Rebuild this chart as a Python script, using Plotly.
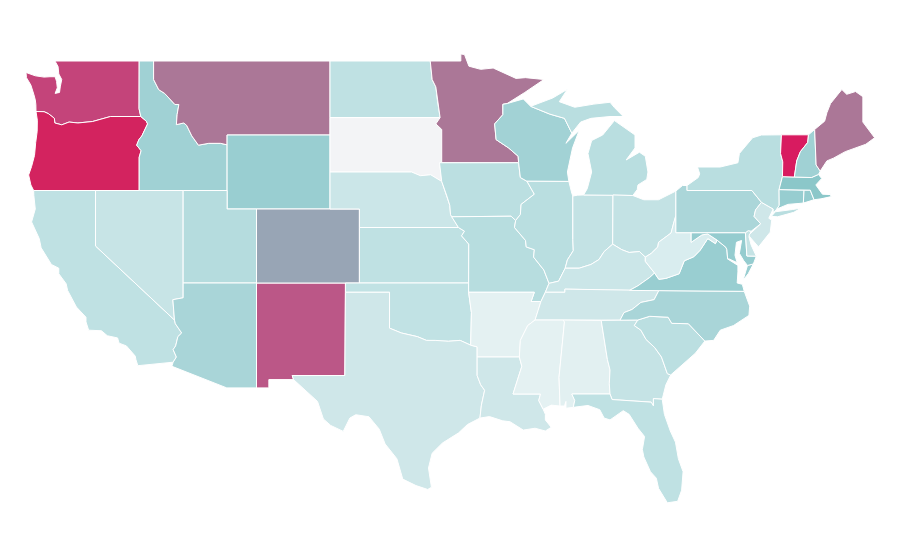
import plotly.graph_objects as go
from plotly.colors import sample_colorscale

# State values (0-100 on the colour scale)
states = ["WA","OR","CA","NV","ID","MT","WY","UT","AZ","NM","CO","ND","SD","NE","KS","OK","TX","MN","IA","MO","AR","LA","WI","IL","IN","MI","OH","KY","TN","MS","AL","GA","FL","SC","NC","VA","WV","MD","DE","PA","NJ","NY","CT","RI","MA","VT","NH","ME"]
values = [86,97,25,21,40,72,43,30,36,80,60,25,0,19,25,24,17,72,27,29,7,17,39,28,23,28,23,19,17,7,8,22,25,27,36,43,12,45,22,35,17,28,44,45,50,100,40,72]
colorscale = [[0,"#f3f4f6"],[0.07,"#e4f1f2"],[0.12,"#d9edef"],[0.17,"#cfe7e9"],[0.25,"#bfe1e3"],[0.36,"#a9d5d8"],[0.43,"#99ced1"],[0.5,"#8bc7c9"],[0.6,"#98a5b5"],[0.72,"#ab7797"],[0.8,"#bb5787"],[0.86,"#c4447a"],[0.97,"#d3235f"],[1,"#d81b60"]]

# Approximate state outlines as (lon, lat); no boundary file is reachable offline
outlines = {
"WA":[[(-122.76,49),(-117.03,49),(-117.04,46.42),(-116.92,46),(-118.98,46),(-119.3,45.93),(-120.2,45.73),(-121.2,45.65),(-121.8,45.7),(-122.3,45.55),(-122.77,45.65),(-122.8,45.9),(-123.2,46.15),(-123.5,46.26),(-124.05,46.27),(-124.06,46.65),(-124.1,46.9),(-124.2,47.2),(-124.4,47.7),(-124.7,48.1),(-124.73,48.38),(-124.1,48.2),(-123.5,48.13),(-123.1,48.15),(-122.75,48.15),(-122.65,47.9),(-122.6,47.55),(-122.75,47.25),(-122.45,47.3),(-122.4,47.6),(-122.3,48),(-122.5,48.3),(-122.55,48.7)]],
"OR":[[(-124.05,46.27),(-123.5,46.26),(-123.2,46.15),(-122.8,45.9),(-122.77,45.65),(-122.3,45.55),(-121.8,45.7),(-121.2,45.65),(-120.2,45.73),(-119.3,45.93),(-118.98,46),(-116.92,46),(-116.55,45.75),(-116.46,45.6),(-116.85,44.95),(-117.05,44.75),(-117.2,44.45),(-116.9,44.15),(-117.03,43.8),(-117.03,42),(-124.21,42),(-124.4,42.3),(-124.55,42.84),(-124.35,43.3),(-124.15,43.9),(-124.07,44.6),(-123.97,45.2),(-123.96,45.8)]],
"CA":[[(-124.21,42),(-120,42),(-120,39),(-114.63,35),(-114.57,34.8),(-114.14,34.3),(-114.4,34.1),(-114.55,33.6),(-114.72,33.4),(-114.5,33),(-114.72,32.72),(-117.12,32.53),(-117.25,32.85),(-117.3,33.05),(-117.9,33.6),(-118.4,33.75),(-118.5,34.03),(-119.2,34.15),(-119.6,34.42),(-120.47,34.45),(-120.65,34.9),(-120.65,35.15),(-121.3,35.7),(-121.9,36.6),(-122,36.96),(-122.5,37.5),(-122.5,37.8),(-123,38),(-123.7,38.9),(-123.83,39.4),(-124.35,40.3),(-124.1,41),(-124.2,41.75)]],
"NV":[[(-120,42),(-114.04,42),(-114.04,36.2),(-114.74,36.1),(-114.63,35),(-120,39)]],
"ID":[[(-117.03,49),(-116.05,49),(-116.05,48),(-115.7,47.45),(-115.3,47.25),(-114.95,46.95),(-114.6,46.65),(-114.33,46.65),(-114.45,46.1),(-114.5,45.56),(-114,45.65),(-113.8,45.52),(-113.45,44.95),(-113,44.45),(-112.3,44.55),(-111.5,44.55),(-111.05,44.47),(-111.05,42),(-117.03,42),(-117.03,43.8),(-116.9,44.15),(-117.2,44.45),(-117.05,44.75),(-116.85,44.95),(-116.46,45.6),(-116.55,45.75),(-116.92,46),(-117.04,46.42)]],
"MT":[[(-116.05,49),(-104.05,49),(-104.05,45),(-111.05,45),(-111.05,44.47),(-111.5,44.55),(-112.3,44.55),(-113,44.45),(-113.45,44.95),(-113.8,45.52),(-114,45.65),(-114.5,45.56),(-114.45,46.1),(-114.33,46.65),(-114.6,46.65),(-114.95,46.95),(-115.3,47.25),(-115.7,47.45),(-116.05,48)]],
"WY":[[(-111.05,45),(-104.05,45),(-104.05,41),(-111.05,41)]],
"UT":[[(-114.04,42),(-111.05,42),(-111.05,41),(-109.05,41),(-109.05,37),(-114.04,37)]],
"AZ":[[(-114.04,37),(-109.05,37),(-109.05,31.33),(-111.07,31.33),(-114.81,32.5),(-114.72,32.72),(-114.5,33),(-114.72,33.4),(-114.55,33.6),(-114.4,34.1),(-114.14,34.3),(-114.57,34.8),(-114.63,35),(-114.74,36.1),(-114.04,36.2)]],
"NM":[[(-109.05,37),(-103,37),(-103.04,32),(-106.62,32),(-106.53,31.78),(-108.21,31.78),(-108.21,31.33),(-109.05,31.33)]],
"CO":[[(-109.05,41),(-102.05,41),(-102.05,37),(-109.05,37)]],
"ND":[[(-104.05,49),(-97.23,49),(-97.1,48),(-96.85,47.6),(-96.75,46.9),(-96.56,45.94),(-104.05,45.94)]],
"SD":[[(-104.05,45.94),(-96.56,45.94),(-96.85,45.6),(-96.45,45.3),(-96.45,43.5),(-96.6,43.5),(-96.45,42.49),(-97.2,42.85),(-97.9,42.8),(-98.5,43),(-104.05,43)]],
"NE":[[(-104.05,43),(-98.5,43),(-97.9,42.8),(-97.2,42.85),(-96.45,42.49),(-96.1,41.7),(-95.9,41.2),(-95.85,40.7),(-95.31,40),(-102.05,40),(-102.05,41),(-104.05,41)]],
"KS":[[(-102.05,40),(-95.31,40),(-94.9,39.8),(-95.1,39.55),(-94.61,39.1),(-94.62,37),(-102.05,37)]],
"OK":[[(-103,37),(-94.62,37),(-94.62,36.5),(-94.43,35.4),(-94.48,33.64),(-95.2,33.9),(-96,33.85),(-96.9,33.9),(-97.5,33.9),(-98.1,34.1),(-99.2,34.3),(-100,34.56),(-100,36.5),(-103,36.5)]],
"TX":[[(-103,36.5),(-100,36.5),(-100,34.56),(-99.2,34.3),(-98.1,34.1),(-97.5,33.9),(-96.9,33.9),(-96,33.85),(-95.2,33.9),(-94.48,33.64),(-94.04,33.55),(-94.04,32),(-93.8,31.5),(-93.53,31.2),(-93.75,30.4),(-93.85,29.7),(-94.7,29.35),(-95.3,28.9),(-96.4,28.35),(-97.1,27.8),(-97.35,27),(-97.15,25.96),(-97.4,25.84),(-98.2,26.05),(-99.1,26.4),(-99.5,27.5),(-100.3,28.3),(-100.7,29.1),(-101.4,29.77),(-102.3,29.88),(-102.7,29.7),(-103.15,28.98),(-104,29.3),(-104.5,29.65),(-104.9,30.6),(-106,31.4),(-106.53,31.78),(-106.62,32),(-103.04,32)]],
"MN":[[(-97.23,49),(-95.15,49),(-95.15,49.38),(-94.9,49.35),(-94.6,48.72),(-93.8,48.55),(-92.95,48.62),(-92,48.3),(-91.4,48.06),(-90.75,48.1),(-89.5,48),(-90.8,47.3),(-92,46.7),(-92.29,46.66),(-92.29,46.1),(-92.85,45.6),(-92.75,44.75),(-91.9,44.3),(-91.25,43.85),(-91.22,43.5),(-96.45,43.5),(-96.45,45.3),(-96.85,45.6),(-96.56,45.94),(-96.75,46.9),(-96.85,47.6),(-97.1,48)]],
"IA":[[(-96.45,43.5),(-91.22,43.5),(-91.1,42.7),(-90.65,42.5),(-90.15,41.8),(-91.05,41.25),(-91.1,40.7),(-91.42,40.38),(-91.73,40.61),(-95.77,40.58),(-95.85,40.7),(-95.9,41.2),(-96.1,41.7),(-96.45,42.49),(-96.6,43.5)]],
"MO":[[(-95.77,40.58),(-91.73,40.61),(-91.42,40.38),(-91.5,40),(-90.75,39.3),(-90.7,38.95),(-90.15,38.8),(-90.2,38.4),(-89.5,37.7),(-89.15,36.98),(-89.4,36.5),(-89.7,36),(-90.37,36),(-90.15,36.5),(-94.62,36.5),(-94.62,37),(-94.61,39.1),(-95.1,39.55),(-94.9,39.8),(-95.31,40)]],
"AR":[[(-94.62,36.5),(-90.15,36.5),(-90.37,36),(-89.7,36),(-89.9,35.5),(-90.1,35),(-90.6,34.7),(-91.1,33.9),(-91.17,33),(-94.04,33),(-94.04,33.55),(-94.48,33.64),(-94.43,35.4)]],
"LA":[[(-94.04,33),(-91.17,33),(-91,32.5),(-91.6,31),(-89.73,31),(-89.85,30.65),(-89.55,30.18),(-89.4,29.9),(-89.4,29.6),(-89,29.2),(-89.4,29),(-90.1,29.15),(-90.9,29.05),(-91.8,29.5),(-92.3,29.55),(-93.2,29.78),(-93.85,29.7),(-93.75,30.4),(-93.53,31.2),(-93.8,31.5),(-94.04,32)]],
"WI":[[(-92.29,46.66),(-92,46.7),(-90.9,46.95),(-90.4,46.55),(-89.1,46.13),(-88.1,45.9),(-87.6,45.1),(-88,44.55),(-87.1,45.25),(-87.55,44.3),(-87.9,43),(-87.8,42.49),(-90.65,42.5),(-91.1,42.7),(-91.22,43.5),(-91.25,43.85),(-91.9,44.3),(-92.75,44.75),(-92.85,45.6),(-92.29,46.1)]],
"IL":[[(-90.65,42.5),(-87.8,42.49),(-87.6,41.85),(-87.53,41.7),(-87.53,39.35),(-87.5,38.75),(-87.9,38.25),(-88.05,37.8),(-88.5,37.1),(-89.15,36.98),(-89.5,37.7),(-90.2,38.4),(-90.15,38.8),(-90.7,38.95),(-90.75,39.3),(-91.5,40),(-91.42,40.38),(-91.1,40.7),(-91.05,41.25),(-90.15,41.8)]],
"IN":[[(-87.53,41.7),(-87.2,41.75),(-86.8,41.76),(-84.8,41.76),(-84.82,39.1),(-85.4,38.7),(-85.75,38.27),(-86.3,38),(-87.1,37.8),(-88.05,37.8),(-87.9,38.25),(-87.5,38.75),(-87.53,39.35)]],
"MI":[[(-86.8,41.76),(-84.8,41.76),(-83.45,41.73),(-83.15,42.05),(-83.1,42.3),(-82.5,42.6),(-82.42,43),(-82.6,43.85),(-83,44.07),(-83.9,43.65),(-83.3,44.3),(-83.3,45),(-84.7,45.78),(-85.5,45),(-86.25,44.7),(-86.5,44),(-86.25,43),(-86.55,42.1)],
      [(-90.4,46.55),(-89.1,46.13),(-88.1,45.9),(-87.6,45.1),(-87,45.7),(-86.3,45.9),(-85,46),(-84.1,46),(-84.7,46.48),(-85,46.77),(-86.1,46.67),(-87.4,46.5),(-88.45,46.8),(-87.9,47.47),(-88.9,47),(-89.9,46.7)]],
"OH":[[(-84.8,41.76),(-83.45,41.73),(-82.7,41.5),(-81.7,41.5),(-80.52,41.97),(-80.52,40.64),(-80.65,40.3),(-80.85,39.7),(-81.7,39.2),(-81.75,38.95),(-82.2,38.6),(-82.6,38.4),(-83,38.7),(-83.7,38.65),(-84.2,38.8),(-84.82,39.1)]],
"KY":[[(-89.4,36.5),(-88.07,36.5),(-88.07,36.67),(-86.5,36.65),(-83.68,36.6),(-83.1,36.85),(-82.3,37.3),(-81.97,37.54),(-82.6,38.17),(-82.6,38.4),(-83,38.7),(-83.7,38.65),(-84.2,38.8),(-84.82,39.1),(-85.4,38.7),(-85.75,38.27),(-86.3,38),(-87.1,37.8),(-88.05,37.8),(-88.5,37.1),(-89.15,36.98)]],
"TN":[[(-90.1,35),(-88.2,35),(-85.6,34.98),(-84.32,34.99),(-84.05,35.4),(-83.5,35.57),(-82.9,35.95),(-82,36.1),(-81.68,36.59),(-83.68,36.6),(-86.5,36.65),(-88.07,36.67),(-88.07,36.5),(-89.4,36.5),(-89.7,36),(-89.9,35.5)]],
"MS":[[(-90.1,35),(-88.2,35),(-88.1,34.9),(-88.47,31.9),(-88.4,30.35),(-89,30.4),(-89.55,30.18),(-89.85,30.65),(-89.73,31),(-91.6,31),(-91,32.5),(-91.17,33),(-91.1,33.9),(-90.6,34.7)]],
"AL":[[(-88.2,35),(-85.6,34.98),(-85.18,32.87),(-85,32.3),(-85.05,31.55),(-85,31),(-87.6,31),(-87.4,30.65),(-87.5,30.28),(-88,30.23),(-88,30.6),(-88.1,30.35),(-88.4,30.35),(-88.47,31.9),(-88.1,34.9)]],
"GA":[[(-85.6,34.98),(-84.32,34.99),(-83.11,35),(-83.35,34.7),(-82.9,34.45),(-82.55,33.95),(-81.95,33.5),(-81.5,33),(-81.1,32.1),(-80.87,32.03),(-81.2,31.5),(-81.45,30.72),(-82.05,30.75),(-82.05,30.36),(-82.2,30.56),(-84.86,30.7),(-85,31),(-85.05,31.55),(-85,32.3),(-85.18,32.87)]],
"FL":[[(-87.6,31),(-85,31),(-84.86,30.7),(-82.2,30.56),(-82.05,30.36),(-82.05,30.75),(-81.45,30.72),(-81.3,29.9),(-80.9,29),(-80.55,28.4),(-80.35,27.5),(-80.03,26.8),(-80.13,25.8),(-80.4,25.2),(-81.1,25.12),(-81.7,25.9),(-81.85,26.45),(-82.25,26.8),(-82.7,27.6),(-82.8,28),(-82.65,28.7),(-83.1,29.15),(-83.7,29.9),(-84.1,30.1),(-85,29.6),(-85.4,29.7),(-85.7,30.15),(-86.5,30.38),(-87.5,30.28),(-87.4,30.65)]],
"SC":[[(-83.11,35),(-82.3,35.2),(-81.05,35.15),(-80.8,34.82),(-79.67,34.8),(-78.55,33.86),(-79.2,33.2),(-79.9,32.7),(-80.87,32.03),(-81.1,32.1),(-81.5,33),(-81.95,33.5),(-82.55,33.95),(-82.9,34.45),(-83.35,34.7)]],
"NC":[[(-84.32,34.99),(-83.11,35),(-82.3,35.2),(-81.05,35.15),(-80.8,34.82),(-79.67,34.8),(-78.55,33.86),(-77.95,33.9),(-77.5,34.45),(-76.6,34.7),(-75.55,35.25),(-75.5,35.75),(-75.87,36.55),(-81.68,36.59),(-82,36.1),(-82.9,35.95),(-83.5,35.57),(-84.05,35.4)]],
"VA":[[(-83.68,36.6),(-81.68,36.59),(-75.87,36.55),(-76,36.93),(-76.35,37),(-76.3,37.6),(-76.3,37.95),(-77,38.3),(-77.05,38.8),(-77.12,38.93),(-77.72,39.32),(-77.83,39.13),(-78.35,39.4),(-78.87,38.77),(-79.3,38.42),(-79.95,38.2),(-80.3,37.5),(-81.2,37.25),(-81.68,37.2),(-81.97,37.54),(-82.3,37.3),(-83.1,36.85)],
      [(-75.95,37.15),(-75.65,37.95),(-75.25,38.03),(-75.6,37.5)]],
"WV":[[(-82.6,38.4),(-82.6,38.17),(-81.97,37.54),(-81.68,37.2),(-81.2,37.25),(-80.3,37.5),(-79.95,38.2),(-79.3,38.42),(-78.87,38.77),(-78.35,39.4),(-77.83,39.13),(-77.72,39.32),(-78.35,39.65),(-78.75,39.6),(-79.48,39.2),(-79.48,39.72),(-80.52,39.72),(-80.52,40.64),(-80.65,40.3),(-80.85,39.7),(-81.7,39.2),(-81.75,38.95),(-82.2,38.6)]],
"MD":[[(-79.48,39.72),(-75.79,39.72),(-75.69,38.46),(-75.05,38.45),(-75.25,38.03),(-75.65,37.95),(-75.9,38.2),(-76.2,38.6),(-76.05,39.3),(-76.4,39.2),(-76.5,38.5),(-76.35,38.1),(-76.9,38.3),(-77,38.3),(-77.05,38.8),(-77.12,38.93),(-77.72,39.32),(-78.35,39.65),(-78.75,39.6),(-79.48,39.2)]],
"DE":[[(-75.79,39.72),(-75.6,39.83),(-75.4,39.8),(-75.55,39.5),(-75.4,39.05),(-75.05,38.45),(-75.69,38.46)]],
"PA":[[(-80.52,41.97),(-80.07,42.27),(-79.76,42.27),(-79.76,42),(-75.35,42),(-74.7,41.36),(-75.1,40.95),(-75.2,40.6),(-74.75,40.2),(-75.4,39.8),(-75.6,39.83),(-75.79,39.72),(-80.52,39.72)]],
"NJ":[[(-74.7,41.36),(-73.9,41),(-74.2,40.5),(-74,40.4),(-74.1,39.75),(-74.9,38.95),(-75.5,39.5),(-75.55,39.6),(-74.75,40.2),(-75.2,40.6),(-75.1,40.95)]],
"NY":[[(-79.76,42),(-79.76,42.27),(-79,42.7),(-78.9,42.9),(-79.05,43.27),(-77.5,43.27),(-76.3,43.5),(-76.2,44),(-75.3,44.85),(-74.7,45),(-73.34,45.01),(-73.4,44),(-73.25,43.55),(-73.27,42.75),(-73.5,42.05),(-73.49,41.2),(-73.65,41),(-73.9,40.8),(-73.9,41),(-74.7,41.36),(-75.35,42)],
      [(-74.03,40.6),(-73.75,40.85),(-72.6,40.97),(-72,41.05),(-72.5,40.82),(-73.6,40.58)]],
"CT":[[(-73.5,42.05),(-71.8,42.02),(-71.85,41.32),(-72.9,41.25),(-73.65,41),(-73.49,41.2)]],
"RI":[[(-71.8,42.02),(-71.38,42.02),(-71.12,41.5),(-71.85,41.32)]],
"MA":[[(-73.5,42.05),(-73.27,42.75),(-72.46,42.73),(-71.3,42.7),(-70.82,42.87),(-70.6,42.65),(-71,42.3),(-70.65,41.95),(-70.55,41.8),(-70,41.78),(-70.2,42.07),(-69.95,41.67),(-70.65,41.55),(-71.12,41.5),(-71.38,42.02),(-71.8,42.02)]],
"VT":[[(-73.34,45.01),(-71.5,45.01),(-71.55,44.6),(-72.05,44.1),(-72.3,43.6),(-72.46,42.73),(-73.27,42.75),(-73.25,43.55),(-73.4,44)]],
"NH":[[(-71.5,45.01),(-71.08,45.3),(-70.98,43.38),(-70.7,43.05),(-70.82,42.87),(-71.3,42.7),(-72.46,42.73),(-72.3,43.6),(-72.05,44.1),(-71.55,44.6)]],
"ME":[[(-71.08,45.3),(-70.4,45.75),(-70.25,46.2),(-70,46.7),(-69.23,47.46),(-68.9,47.2),(-68.3,47.35),(-67.8,47.07),(-67.8,45.7),(-67.45,45.3),(-67,44.85),(-67.6,44.5),(-68.5,44.25),(-69,44.1),(-69.8,43.75),(-70.25,43.6),(-70.7,43.05),(-70.98,43.38)]],
}

fig = go.Figure()
for state, value in zip(states, values):
    lon, lat = [], []
    for ring in outlines[state]:
        closed = ring + [ring[0]]
        lon += [p[0] for p in closed] + [None]
        lat += [p[1] for p in closed] + [None]
    color = sample_colorscale(colorscale, value / 100)[0]
    fig.add_trace(go.Scatter(x=lon, y=lat, mode="lines", fill="toself", fillcolor=color,
        line=dict(color="white", width=1), name=state, text=f"{state}: {value}", hoverinfo="text"))

fig.update_xaxes(visible=False, range=[-125.955, -64.73])
fig.update_yaxes(visible=False, range=[21.595, 51.865])
fig.update_layout(width=900, height=560, margin=dict(l=0, r=0, t=0, b=0), showlegend=False,
    paper_bgcolor="white", plot_bgcolor="white")
fig.write_html("out.html")
